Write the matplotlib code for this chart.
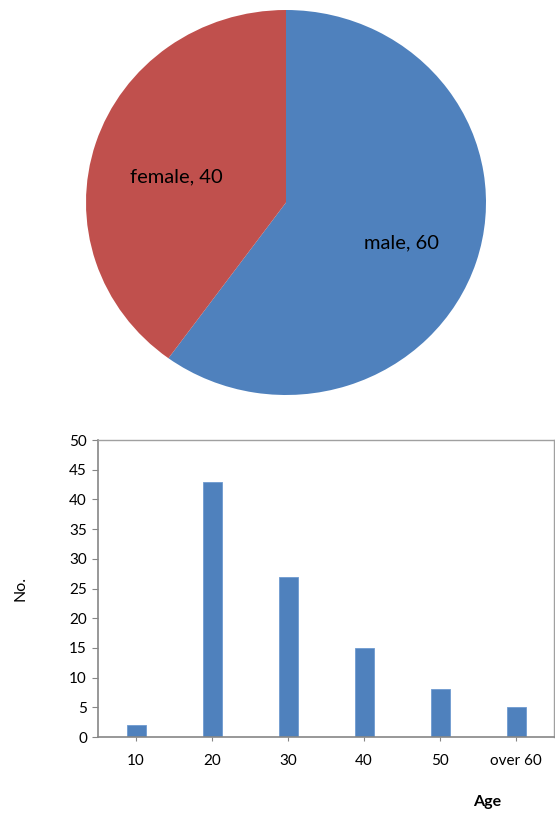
import matplotlib.pyplot as plt

plt.rcParams['font.family'] = ['Lato', 'DejaVu Sans']

# Data
gender_labels = ['male', 'female']
gender_counts = [60, 40]
gender_colors = ['#4F81BD', '#C0504D']
label_xy = [(0.575, -0.21), (-0.55, 0.135)]  # label anchors in pie coords

age_groups = ['10', '20', '30', '40', '50', 'over 60']
age_counts = [2, 43, 27, 15, 8, 5]

fig = plt.figure(figsize=(5.55, 8.13), dpi=100)

# Pie chart
ax1 = fig.add_axes([86/555, 1 - 395/813, 400/555, 385/813])
ax1.pie(gender_counts, colors=gender_colors, startangle=90, counterclock=False)
for lab, cnt, (lx, ly) in zip(gender_labels, gender_counts, label_xy):
    ax1.text(lx, ly, f'{lab}, {cnt}', ha='center', va='center', fontsize=14.5, color='black')
ax1.set_aspect('auto')
ax1.set_xlim(-1, 1)
ax1.set_ylim(-1, 1)
ax1.axis('off')

# Bar chart
ax2 = fig.add_axes([98/555, 1 - 737/813, 456/555, 297/813])
x = range(len(age_groups))
ax2.bar(x, age_counts, width=0.25, color='#4F81BD', edgecolor='#6E9BD0', linewidth=0.6)
ax2.set_xlim(-0.5, 5.5)
ax2.set_ylim(0, 50)
ax2.set_yticks(range(0, 51, 5))
ax2.set_xticks(list(x))
ax2.set_xticklabels(age_groups)
for side in ['left', 'bottom']:
    ax2.spines[side].set_color('#868686')
    ax2.spines[side].set_linewidth(1.2)
for side in ['top', 'right']:
    ax2.spines[side].set_color('#A0A0A0')
    ax2.spines[side].set_linewidth(1.0)
ax2.tick_params(axis='y', direction='out', length=4, color='#868686', labelsize=11, pad=4)
ax2.tick_params(axis='x', direction='out', length=3, color='#868686', labelsize=11, pad=9)
ax2.set_ylabel('No.', fontsize=11.5, labelpad=30)
ax2.set_xlabel('Age', fontsize=11.5, fontweight='bold')
ax2.xaxis.set_label_coords((487 - 98) / 456, -0.195)

fig.savefig('out.png', dpi=100)
